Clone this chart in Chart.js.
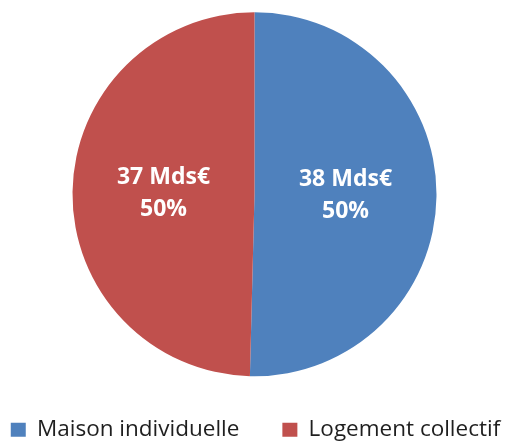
<!DOCTYPE html>
<html>
<head>
<meta charset="utf-8">
<script src="https://cdn.jsdelivr.net/npm/chart.js@4"></script>
<style>
html,body{margin:0;padding:0;background:#fff;}
#wrap{width:509px;height:441px;position:relative;}
</style>
</head>
<body>
<div id="wrap"><canvas id="c" width="509" height="441"></canvas></div>
<script>
const categories = ['Maison individuelle', 'Logement collectif'];
const values = [37.6, 37.0];
const unit = ' Mds€';
const colors = ['#4F81BD', '#C0504D'];

const total = values.reduce((a, b) => a + b, 0);
const valueLabels = values.map(v => Math.round(v) + unit);
const percentLabels = values.map(v => Math.round(v / total * 100) + '%');

const labelPlugin = {
  id: 'sliceLabels',
  afterDatasetsDraw(chart) {
    const ctx = chart.ctx;
    const meta = chart.getDatasetMeta(0);
    ctx.save();
    ctx.fillStyle = '#ffffff';
    ctx.font = 'bold 23px "Open Sans"';
    ctx.textAlign = 'center';
    ctx.textBaseline = 'middle';
    meta.data.forEach((arc, i) => {
      const p = arc.getProps(['x','y','startAngle','endAngle','outerRadius'], true);
      const mid = (p.startAngle + p.endAngle) / 2;
      const r = p.outerRadius * 0.5;
      const x = p.x + Math.cos(mid) * r;
      const y = p.y + Math.sin(mid) * r;
      ctx.fillText(valueLabels[i], x, y - 16);
      ctx.fillText(percentLabels[i], x, y + 16);
    });
    ctx.restore();
  }
};

new Chart(document.getElementById('c'), {
  type: 'pie',
  data: {
    labels: categories,
    datasets: [{
      data: values,
      backgroundColor: colors,
      borderWidth: 0
    }]
  },
  options: {
    responsive: false,
    animation: false,
    radius: 182,
    layout: { padding: { top: 13, left: -38, right: -40, bottom: -10 } },
    plugins: {
      tooltip: { enabled: false },
      legend: {
        position: 'bottom',
        labels: {
          boxWidth: 15,
          boxHeight: 14,
          padding: 43,
          color: '#1f1f1f',
          font: { family: '"Open Sans"', size: 22.5 }
        }
      }
    }
  },
  plugins: [labelPlugin]
});
</script>
</body>
</html>
